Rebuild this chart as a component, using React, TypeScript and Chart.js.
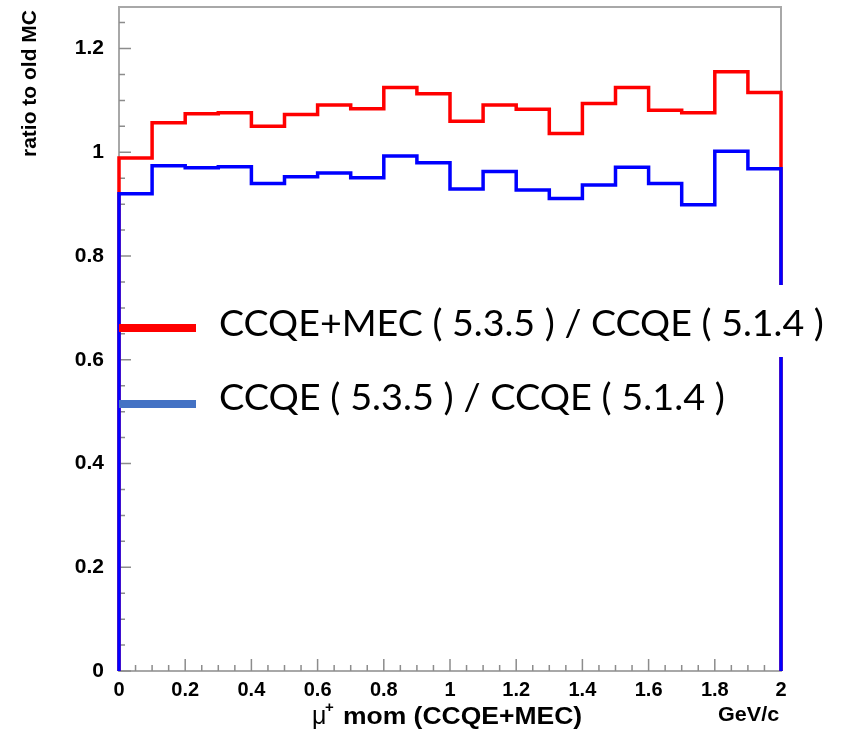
import React, { useEffect, useRef } from "react";
import { Chart, registerables } from "chart.js";

Chart.register(...registerables);

// Lower bin edges (GeV/c), bin width 0.1, last upper edge 2.0
const binLowEdges = [0.0, 0.1, 0.2, 0.3, 0.4, 0.5, 0.6, 0.7, 0.8, 0.9, 1.0, 1.1, 1.2, 1.3, 1.4, 1.5, 1.6, 1.7, 1.8, 1.9];
const upperEdge = 2.0;

// CCQE+MEC (5.3.5) / CCQE (5.1.4)
const ratioMEC = [0.989, 1.057, 1.074, 1.076, 1.050, 1.073, 1.091, 1.084, 1.125, 1.113, 1.060, 1.091, 1.083, 1.036, 1.094, 1.125, 1.081, 1.076, 1.155, 1.115];
// CCQE (5.3.5) / CCQE (5.1.4)
const ratioCCQE = [0.920, 0.974, 0.970, 0.972, 0.940, 0.953, 0.960, 0.951, 0.993, 0.980, 0.929, 0.963, 0.927, 0.911, 0.937, 0.971, 0.940, 0.899, 1.002, 0.968];

const xTickValues = [0, 0.2, 0.4, 0.6, 0.8, 1, 1.2, 1.4, 1.6, 1.8, 2];
const yTickValues = [0, 0.2, 0.4, 0.6, 0.8, 1, 1.2];

const legendLabels = ["CCQE+MEC ( 5.3.5 ) / CCQE ( 5.1.4 )", "CCQE ( 5.3.5 ) / CCQE ( 5.1.4 )"];
const xTitleMain = "mom (CCQE+MEC)";
const xUnit = "GeV/c";
const yTitle = "ratio to old MC";

function histPoints(vals: number[]) {
  const pts: { x: number; y: number }[] = [{ x: binLowEdges[0], y: 0 }];
  binLowEdges.forEach((e, i) => pts.push({ x: e, y: vals[i] }));
  pts.push({ x: upperEdge, y: vals[vals.length - 1] });
  pts.push({ x: upperEdge, y: 0 });
  return pts;
}

const TICK_FONT = "'Liberation Sans', Arial, Helvetica, sans-serif";

const framePlugin = {
  id: "rootFrame",
  beforeDatasetsDraw(chart: any) {
    const { ctx, chartArea } = chart;
    const xs = chart.scales.x;
    const ys = chart.scales.y;
    ctx.save();
    ctx.strokeStyle = "#a8a8a8";
    ctx.lineWidth = 2;
    ctx.strokeRect(chartArea.left, chartArea.top, chartArea.right - chartArea.left, chartArea.bottom - chartArea.top);
    ctx.strokeStyle = "#8c8c8c";
    ctx.lineWidth = 1.5;
    ctx.beginPath();
    for (let i = 0; i <= 40; i++) {
      const px = xs.getPixelForValue(i * 0.05);
      const len = i % 4 === 0 ? 12 : 6;
      ctx.moveTo(px, chartArea.bottom);
      ctx.lineTo(px, chartArea.bottom - len);
    }
    for (let i = 0; i <= 25; i++) {
      const py = ys.getPixelForValue(i * 0.05);
      const len = i % 4 === 0 ? 12 : 6;
      ctx.moveTo(chartArea.left, py);
      ctx.lineTo(chartArea.left + len, py);
    }
    ctx.stroke();
    ctx.restore();
  },
};

function fitText(ctx: CanvasRenderingContext2D, text: string, left: number, right: number, baseline: number) {
  ctx.textAlign = "left";
  ctx.textBaseline = "alphabetic";
  const m = ctx.measureText(text);
  const l = m.actualBoundingBoxLeft;
  const w = m.actualBoundingBoxLeft + m.actualBoundingBoxRight;
  const sx = (right - left) / w;
  ctx.save();
  ctx.translate(left + l * sx, baseline);
  ctx.scale(sx, 1);
  ctx.fillText(text, 0, 0);
  ctx.restore();
}

const textPlugin = {
  id: "rootText",
  afterDraw(chart: any) {
    const { ctx } = chart;
    ctx.save();
    ctx.fillStyle = "#000";
    // y title
    ctx.save();
    ctx.translate(35.5, 10);
    ctx.rotate(-Math.PI / 2);
    ctx.font = `bold 21px ${TICK_FONT}`;
    ctx.textAlign = "right";
    ctx.textBaseline = "alphabetic";
    ctx.fillText(yTitle, 0, 0);
    ctx.restore();

    // x title: mu + superscript
    ctx.textBaseline = "alphabetic";
    ctx.textAlign = "left";
    ctx.font = `25px ${TICK_FONT}`;
    ctx.fillText("\u03bc", 312, 724);
    ctx.font = `bold 15px ${TICK_FONT}`;
    ctx.fillText("+", 325, 712);
    ctx.font = `bold 24px ${TICK_FONT}`;
    fitText(ctx, xTitleMain, 344, 581, 724);
    ctx.font = `bold 20px ${TICK_FONT}`;
    fitText(ctx, xUnit, 718, 779, 721);

    // legend
    ctx.fillStyle = "#ffffff";
    ctx.fillRect(205, 285, 636, 72);
    ctx.fillStyle = "#ff0000";
    ctx.fillRect(119, 324, 77, 8);
    ctx.fillStyle = "#4472c4";
    ctx.fillRect(119, 400, 77, 8);
    ctx.fillStyle = "#000";
    ctx.font = "37px Lato, 'Open Sans', sans-serif";
    fitText(ctx, legendLabels[0], 220, 823, 336);
    fitText(ctx, legendLabels[1], 220, 724, 410);
    ctx.restore();
  },
};

export default function App() {
  const ref = useRef<HTMLCanvasElement | null>(null);
  useEffect(() => {
    if (!ref.current) return;
    const chart = new Chart(ref.current, {
      type: "line",
      data: {
        datasets: [
          {
            label: legendLabels[1],
            data: histPoints(ratioCCQE),
            borderColor: "#0000ff",
            borderWidth: 3.5,
            stepped: "before",
            pointRadius: 0,
            fill: false,
            clip: false as any,
            borderJoinStyle: "miter",
            borderCapStyle: "butt",
            order: 0,
          },
          {
            label: legendLabels[0],
            data: histPoints(ratioMEC),
            borderColor: "#ff0000",
            borderWidth: 3.5,
            stepped: "before",
            pointRadius: 0,
            fill: false,
            clip: false as any,
            borderJoinStyle: "miter",
            borderCapStyle: "butt",
            order: 1,
          },
        ],
      },
      options: {
        responsive: false,
        animation: false,
        devicePixelRatio: 1,
        layout: { padding: { top: 7, right: 60, bottom: 0, left: 0 } },
        plugins: { legend: { display: false }, tooltip: { enabled: false } },
        scales: {
          x: {
            type: "linear",
            min: 0,
            max: 2,
            afterFit: (s: any) => {
              s.height = 62;
              s.paddingLeft = 0;
              s.paddingRight = 0;
            },
            afterBuildTicks: (s: any) => {
              s.ticks = xTickValues.map((v) => ({ value: v }));
            },
            grid: { display: false, drawTicks: false },
            border: { display: false },
            ticks: {
              autoSkip: false,
              maxRotation: 0,
              padding: 7,
              color: "#000",
              font: { family: TICK_FONT, size: 20, weight: "bold" },
              callback: (v: any) => String(Math.round(Number(v) * 10) / 10),
            },
          },
          y: {
            type: "linear",
            min: 0,
            max: 1.28,
            afterFit: (s: any) => {
              s.width = 119;
              s.paddingTop = 0;
              s.paddingBottom = 0;
            },
            afterBuildTicks: (s: any) => {
              s.ticks = yTickValues.map((v) => ({ value: v }));
            },
            grid: { display: false, drawTicks: false },
            border: { display: false },
            ticks: {
              autoSkip: false,
              padding: 15,
              color: "#000",
              font: { family: TICK_FONT, size: 21, weight: "bold" },
              callback: (v: any) => String(Math.round(Number(v) * 10) / 10),
            },
          },
        },
      },
      plugins: [framePlugin, textPlugin],
    } as any);
    return () => chart.destroy();
  }, []);
  return (
    <div style={{ position: "fixed", left: 0, top: 0, width: 841, height: 733, background: "#fff" }}>
      <canvas ref={ref} width={841} height={733} style={{ width: 841, height: 733, display: "block" }} />
    </div>
  );
}
